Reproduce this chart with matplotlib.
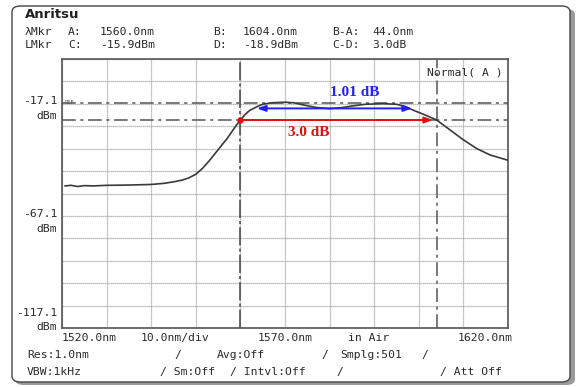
import numpy as np
import matplotlib
matplotlib.use("Agg")
import matplotlib.pyplot as plt
from matplotlib.patches import FancyBboxPatch

wavelength_nm = [1520.7, 1522, 1523.5, 1525, 1527, 1530, 1535, 1540, 1543, 1545,
                 1547, 1548.5, 1550, 1551.5, 1553, 1555, 1557, 1559, 1560, 1561,
                 1562, 1563.5, 1565, 1567, 1570, 1572, 1574, 1577, 1580, 1582.5,
                 1585, 1588, 1592, 1595, 1597, 1599, 1601, 1604, 1607, 1610,
                 1613, 1616, 1620]
level_dbm = [-30.2, -30.1, -30.3, -30.15, -30.2, -30.1, -30.05, -29.95, -29.75, -29.5,
             -29.2, -28.8, -28.2, -27.2, -25.9, -24.0, -22.1, -19.9, -18.9, -18.0,
             -17.3, -16.7, -16.2, -15.95, -15.85, -15.95, -16.3, -16.75, -16.95, -16.8,
             -16.5, -16.2, -16.1, -16.2, -16.6, -17.3, -17.9, -18.9, -20.6, -22.3,
             -23.8, -24.9, -25.8]

marker_a_nm = 1560.0
marker_b_nm = 1604.0
marker_c_dbm = -15.9
marker_d_dbm = -18.9
ripple_db = 1.01
ripple_span_nm = [1563.7, 1598.5]
bw_span_nm = [1560.0, 1603.2]

x_limits = [1520.0, 1620.0]
y_limits = [-54.56, -8.44]
n_xdiv = 10
n_ydiv = 12

y_tick_labels = ["-17.1", "-67.1", "-117.1"]

header_rows = [
    ["\u03bbMkr", "A:", "1560.0nm", "B:", "1604.0nm", "B-A:", "44.0nm"],
    ["LMkr", "C:", "-15.9dBm", "D:", "-18.9dBm", "C-D:", "3.0dB"],
]
header_x = [25, 68, 100, 213, 243, 332, 372]

W, H = 579, 387
fig = plt.figure(figsize=(W / 100, H / 100), dpi=100)
mono = "DejaVu Sans Mono"


def px(x, y):
    return x / W, 1 - y / H


def ftext(x, y, s, **kw):
    kw.setdefault("family", mono)
    kw.setdefault("fontsize", 8.2)
    kw.setdefault("va", "center")
    kw.setdefault("color", "#2a2a2a")
    fig.text(*px(x, y), s, **kw)


# Rahmen mit Schatten
shadow = FancyBboxPatch(px(15, 385), (572 - 12) / W, (385 - 9) / H,
                        boxstyle="round,pad=0,rounding_size=0.015",
                        transform=fig.transFigure, facecolor="#9a9a9a",
                        edgecolor="none", zorder=-2)
frame = FancyBboxPatch(px(12, 382), (570 - 12) / W, (382 - 6) / H,
                       boxstyle="round,pad=0,rounding_size=0.015",
                       transform=fig.transFigure, facecolor="white",
                       edgecolor="#444444", linewidth=1.0, zorder=-1)
fig.patches.extend([shadow, frame])

ax = fig.add_axes([62 / W, 1 - 328 / H, 446 / W, 269 / H])
ax.set_facecolor("white")
ax.set_xlim(x_limits)
ax.set_ylim(y_limits)

xg = np.linspace(x_limits[0], x_limits[1], n_xdiv + 1)
yg = np.linspace(y_limits[1], y_limits[0], n_ydiv + 1)
ax.set_xticks(xg)
ax.set_yticks(yg)
ax.tick_params(length=0, labelbottom=False, labelleft=False)
ax.grid(True, color="#a8a8a8", linestyle=(0, (1, 0.6)), linewidth=0.9)
for s in ax.spines.values():
    s.set_color("#555555")
    s.set_linewidth(1.2)

# Markerlinien
dashdot = (0, (9, 3, 2, 3))
ax.axhline(marker_c_dbm, color="#555555", linestyle=dashdot, linewidth=1.1)
ax.axhline(marker_d_dbm, color="#555555", linestyle=dashdot, linewidth=1.1)
ax.axvline(marker_a_nm, color="#444444", linestyle=(0, (12, 2, 2, 2)), linewidth=1.1)
ax.axvline(marker_b_nm, color="#555555", linestyle=dashdot, linewidth=1.1)

# Spektrum
ax.plot(wavelength_nm, level_dbm, color="#3a3a3a", linewidth=1.2, zorder=3)

# Ripple (blau) und 3-dB-Bandbreite (rot)
ripple_y = marker_c_dbm - ripple_db
ax.annotate("", xy=(ripple_span_nm[0], ripple_y), xytext=(ripple_span_nm[1], ripple_y),
            arrowprops=dict(arrowstyle="<|-|>,head_length=0.5,head_width=0.18",
                            color="#1f1fff", lw=1.4, shrinkA=0, shrinkB=0), zorder=4)
ax.annotate("", xy=(bw_span_nm[1], marker_d_dbm), xytext=(bw_span_nm[0], marker_d_dbm),
            arrowprops=dict(arrowstyle="-|>,head_length=0.5,head_width=0.18",
                            color="#e01010", lw=1.4, shrinkA=0, shrinkB=0), zorder=4)
ax.plot([bw_span_nm[0]], [marker_d_dbm], "o", color="#e01010", markersize=3.5, zorder=5)

ax.text(1585.7, ripple_y + 2.7, f"{ripple_db:.2f} dB", color="#1f1fff",
        family="Liberation Serif", fontweight="bold", fontsize=11, ha="center", va="center")
ax.text(1575.2, marker_d_dbm - 2.2, f"{marker_c_dbm - marker_d_dbm:.1f} dB", color="#e01010",
        family="Liberation Serif", fontweight="bold", fontsize=11, ha="center", va="center")

ax.text(0.006, marker_c_dbm, "REF", transform=ax.get_yaxis_transform(), fontsize=4,
        family=mono, color="#555555", va="center")
ax.text(0.988, 0.95, "Normal( A )", transform=ax.transAxes, family=mono, fontsize=8.2,
        color="#2a2a2a", ha="right", va="center")

# y-Beschriftung
ftext(57, 101, y_tick_labels[0], ha="right")
ftext(57, 116, "dBm", ha="right")
ftext(57, 214, y_tick_labels[1], ha="right")
ftext(57, 229, "dBm", ha="right")
ftext(57, 313, y_tick_labels[2], ha="right")
ftext(57, 327, "dBm", ha="right")

# x-Beschriftung
ftext(62, 338, "1520.0nm")
ftext(175, 338, "10.0nm/div", ha="center")
ftext(285, 338, "1570.0nm", ha="center")
ftext(369, 338, "in Air", ha="center")
ftext(513, 338, "1620.0nm", ha="right")

# Kopfzeile
ftext(25, 14, "Anritsu", family="DejaVu Sans", fontweight="bold", fontsize=9.5,
      color="#222222")
for row, y in zip(header_rows, [32, 45]):
    for x, s in zip(header_x, row):
        ftext(x, y, s)

# Fußzeile
ftext(27, 355, "Res:1.0nm")
ftext(174, 355, "/")
ftext(217, 355, "Avg:Off")
ftext(321, 355, "/")
ftext(340, 355, "Smplg:501")
ftext(421, 355, "/")
ftext(27, 372, "VBW:1kHz")
ftext(160, 372, "/ Sm:Off")
ftext(230, 372, "/ Intvl:Off")
ftext(336, 372, "/")
ftext(440, 372, "/ Att Off")

fig.savefig("out.png", dpi=100)
